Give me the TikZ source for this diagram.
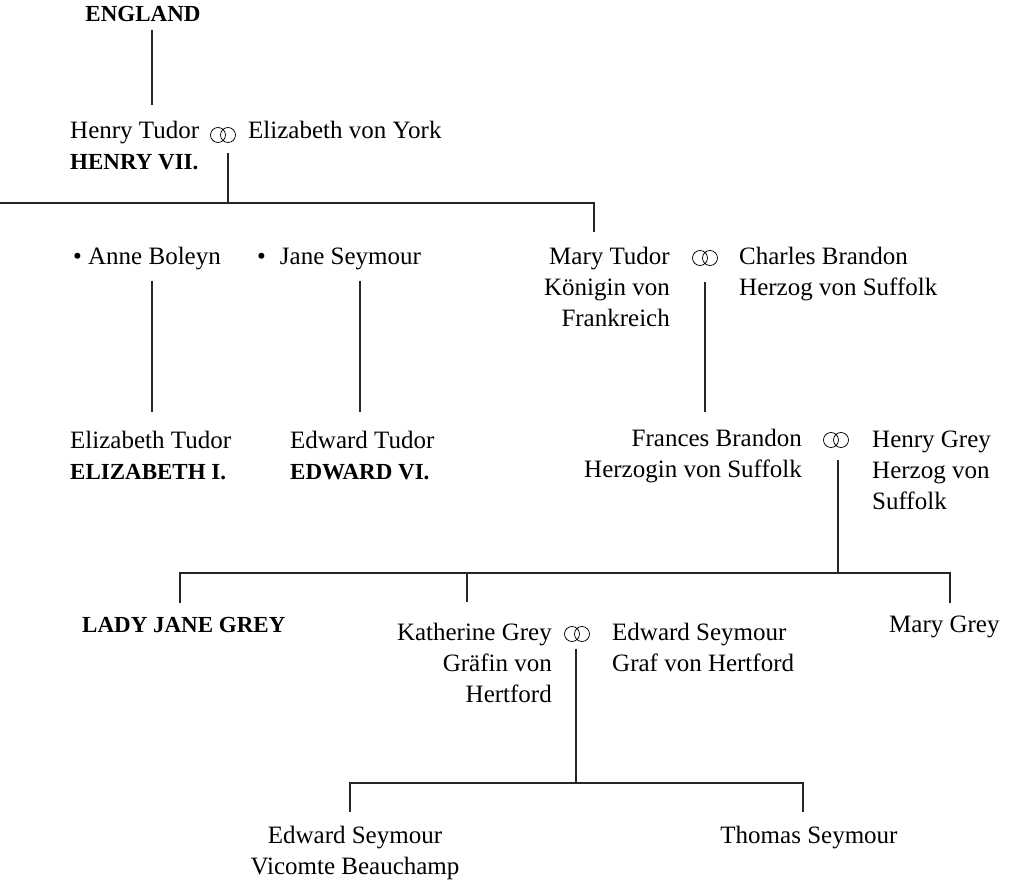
\documentclass[tikz,border=0pt]{standalone}
\usepackage{fontspec}
\setmainfont{Liberation Serif}
\usetikzlibrary{positioning}
\newcommand{\royal}[1]{{\fontsize{23}{31}\selectfont\bfseries #1}}
\tikzset{
  person/.style={inner sep=0pt, font=\fontsize{25}{31}\selectfont},
  king/.style={person, font=\fontsize{23}{31}\selectfont\bfseries},
  rings/.style={inner sep=0pt, minimum width=28pt, minimum height=17pt,
    path picture={\draw[line width=.75pt] ([xshift=-5pt]path picture bounding box.center) circle (7.5pt)
      ([xshift=5pt]path picture bounding box.center) circle (7.5pt);}},
  link/.style={line width=1.1pt, black!85},
}
\begin{document}
\begin{tikzpicture}[x=1pt,y=-1pt]
\useasboundingbox (0,0) rectangle (1013,885);

% columns of the vertical lines
\coordinate (xa) at (152,0); \coordinate (xj) at (360,0); \coordinate (xm) at (594,0);
\coordinate (xlj) at (180,0); \coordinate (xk) at (467,0); \coordinate (xmg) at (950,0);
\coordinate (xb) at (350,0); \coordinate (xt) at (803,0);
\coordinate (bar1) at (228,203); \coordinate (bar2) at (838,573); \coordinate (bar3) at (576,783);

% Henry VII. (multi-line nodes sit on their last line)
\node[king, anchor=base] (england) at (143,22) {ENGLAND};
\node[person, anchor=base west, align=left] (henry) at (70,170) {Henry Tudor\\\royal{HENRY VII.}};
\node[rings] (r1) at (223,135) {};
\node[person, anchor=base west] (york) at (248,139) {Elizabeth von York};

% children
\node[person, anchor=base west] (anne) at (73,265) {• Anne Boleyn};
\node[person, anchor=base west] (jane) at (257,265) {•\hspace{14pt}Jane Seymour};
\node[person, anchor=base east, align=right] (mary) at (670,327) {Mary Tudor\\Königin von\\Frankreich};
\node[rings] (r2) at (705,258) {};
\node[person, anchor=base west, align=left] (charles) at (739,296) {Charles Brandon\\Herzog von Suffolk};

% grandchildren
\node[person, anchor=base west, align=left] (elizabeth) at (70,479) {Elizabeth Tudor\\\royal{ELIZABETH I.}};
\node[person, anchor=base west, align=left] (edward) at (290,479) {Edward Tudor\\\royal{EDWARD VI.}};
\node[person, anchor=base east, align=right] (frances) at (802,478) {Frances Brandon\\Herzogin von Suffolk};
\node[rings] (r3) at (836,440) {};
\node[person, anchor=base west, align=left] (hgrey) at (872,509) {Henry Grey\\Herzog von\\Suffolk};

% Grey sisters
\node[king, anchor=base west] (ladyjane) at (82,632) {LADY JANE GREY};
\node[person, anchor=base east, align=right] (katherine) at (552,702) {Katherine Grey\\Gräfin von\\Hertford};
\node[rings] (r4) at (577,634) {};
\node[person, anchor=base west, align=left] (eseymour) at (612,671) {Edward Seymour\\Graf von Hertford};
\node[person, anchor=base west] (marygrey) at (889,632) {Mary Grey};

% Seymour sons
\node[person, anchor=base, align=center] (beauchamp) at (355,874) {Edward Seymour\\Vicomte Beauchamp};
\node[person, anchor=base] (thomas) at (809,843) {Thomas Seymour};

% lines
\draw[link, shorten <=8pt, shorten >=16pt] (england.base -| xa) -- (henry.north -| xa);
\draw[link, shorten <=9pt] (r1.south -| bar1) -- (bar1);
\draw[link, shorten >=15pt] (bar1 -| current bounding box.west) -| (mary.north -| xm);
\draw[link, shorten <=10pt, shorten >=18pt] (anne.south -| xa) -- (elizabeth.north -| xa);
\draw[link, shorten <=10pt, shorten >=18pt] (jane.south -| xj) -- (edward.north -| xj);
\draw[link, shorten <=15pt, shorten >=17pt] (r2.south) -- (r2.south |- frances.north);
\draw[link, shorten <=11pt] (r3.south -| bar2) -- (bar2);
\draw[link, shorten >=14pt] (bar2) -| (ladyjane.north -| xlj);
\draw[link, shorten >=20pt] (bar2) -| (katherine.north -| xk);
\draw[link, shorten >=12pt] (bar2) -| (marygrey.north -| xmg);
\draw[link, shorten <=6pt] (r4.south -| bar3) -- (bar3);
\draw[link, shorten >=13pt] (bar3) -| (beauchamp.north -| xb);
\draw[link, shorten >=13pt] (bar3) -| (thomas.north -| xt);
\end{tikzpicture}
\end{document}
